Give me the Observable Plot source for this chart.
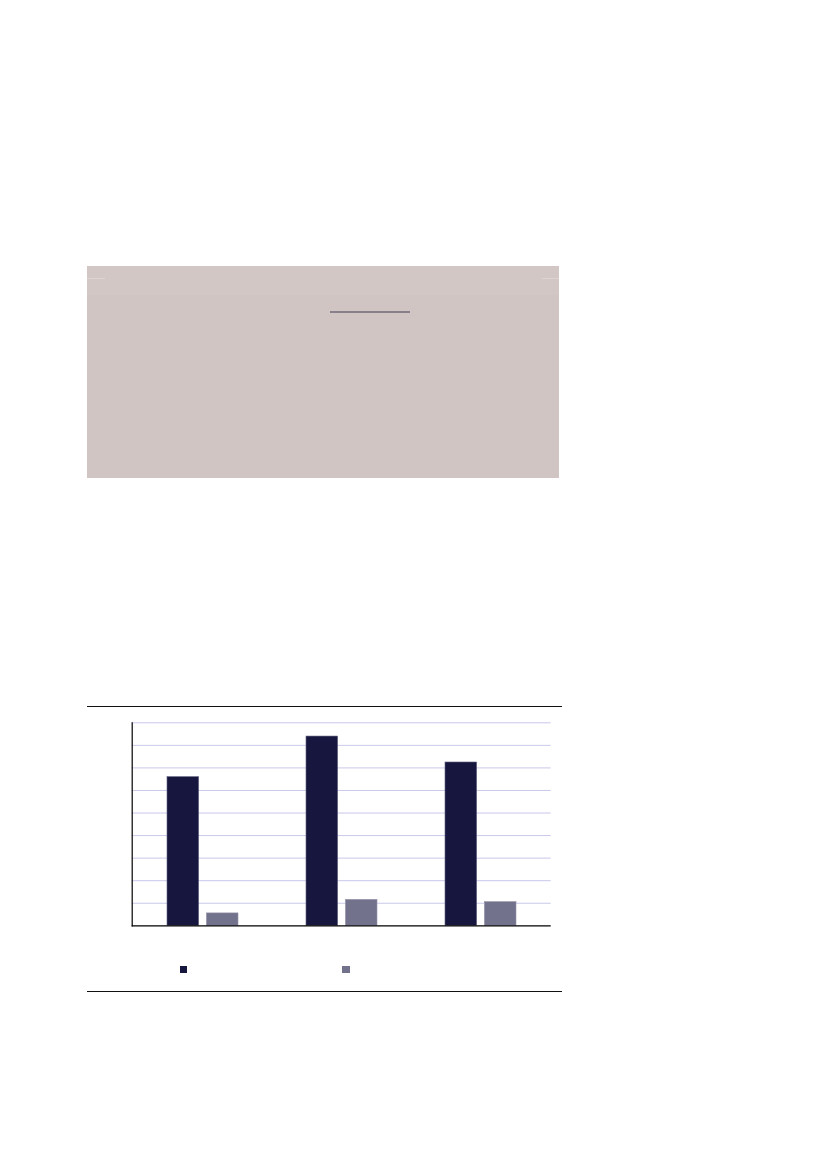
<!DOCTYPE html>
<html>
<head>
<meta charset="utf-8">
<script src="https://cdn.jsdelivr.net/npm/d3@7"></script>
<script src="https://cdn.jsdelivr.net/npm/@observablehq/plot@0.6"></script>
<style>
  html, body { margin: 0; padding: 0; background: #ffffff; }
  #page { position: relative; width: 827px; height: 1169px; overflow: hidden; font-family: "Liberation Sans", Arial, sans-serif; }
  .abs { position: absolute; }
</style>
</head>
<body>
<div id="page">
  <div class="abs" style="left:87px; top:266px; width:472px; height:212px; background:#d0c5c3;"></div>
  <div class="abs" style="left:87px; top:266px; width:472px; height:29px; background:#d2c7c5;"></div>
  <div class="abs" style="left:87px; top:278px; width:18px; height:1px; background:#ddd4d2;"></div>
  <div class="abs" style="left:542px; top:278px; width:17px; height:1px; background:#ddd4d2;"></div>
  <div class="abs" style="left:330px; top:311px; width:80px; height:1.5px; background:#8a808c;"></div>
  <div class="abs" style="left:87px; top:705.5px; width:475px; height:1.3px; background:#111;"></div>
  <div class="abs" style="left:87px; top:991px; width:475px; height:1.3px; background:#111;"></div>
  <div id="chart" class="abs" style="left:87px; top:706px;"></div>
  <div id="legend"></div>
</div>
<script>
const categories = ["Group 1", "Group 2", "Group 3"];
const seriesNames = ["Series A", "Series B"];
const seriesA = [6.59, 8.39, 7.24];
const seriesB = [0.55, 1.15, 1.05];
const gridTicks = [1, 2, 3, 4, 5, 6, 7, 8, 9];
const colors = ["#17163f", "#73728c"];

const rows = categories.map((c, i) => ({category: c, a: seriesA[i], b: seriesB[i]}));

const plot = Plot.plot({
  width: 475,
  height: 286,
  marginLeft: 44.7,
  marginRight: 11.3,
  marginTop: 16.3,
  marginBottom: 66.7,
  style: {background: "transparent"},
  x: {domain: categories, paddingInner: 0.492, paddingOuter: 0.246, axis: null},
  y: {domain: [0, 9], axis: null},
  marks: [
    Plot.ruleY(gridTicks, {stroke: "#c9c8ea", strokeWidth: 1}),
    Plot.barY(rows, {x: "category", y: "a", fill: colors[0], stroke: "#5f5e7c", strokeWidth: 0.6, insetRight: 39.4}),
    Plot.barY(rows, {x: "category", y: "b", fill: colors[1], stroke: "#9594aa", strokeWidth: 0.6, insetLeft: 39.4}),
    Plot.ruleY([0], {stroke: "#000", strokeWidth: 1.2}),
    Plot.frame({anchor: "left", stroke: "#000", strokeWidth: 1.2})
  ]
});
document.getElementById("chart").appendChild(plot);

// legend swatches (text not present in reference)
const legendPos = [[180, 965.5], [342.3, 965.5]];
const legend = document.getElementById("legend");
seriesNames.forEach((s, i) => {
  const d = document.createElement("div");
  d.className = "abs";
  d.title = s;
  d.style.left = legendPos[i][0] + "px";
  d.style.top = legendPos[i][1] + "px";
  d.style.width = "7.3px";
  d.style.height = "7.3px";
  d.style.background = colors[i];
  legend.appendChild(d);
});
</script>
</body>
</html>
